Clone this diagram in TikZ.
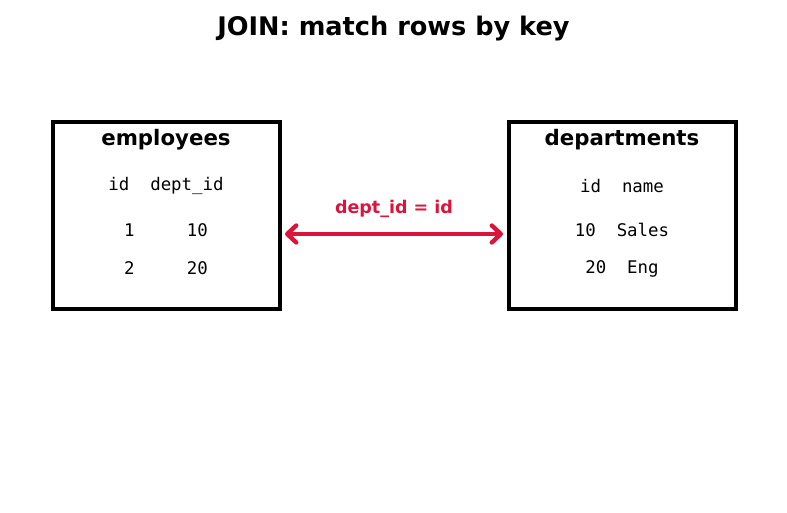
\documentclass[tikz,border=0pt]{standalone}
\usepackage{fontspec}
\setmainfont{DejaVu Sans}
\setmonofont{DejaVu Sans Mono}
\usetikzlibrary{arrows.meta}
\definecolor{joinred}{HTML}{DC143C}
\begin{document}
\begin{tikzpicture}[x=1pt,y=-1pt,
  tablebox/.style={draw=black,line width=4.8pt,minimum width=227pt,minimum height=187pt,inner sep=0pt},
  tabtitle/.style={font=\fontsize{21.3}{25}\selectfont\bfseries,inner sep=0pt,anchor=center},
  cell/.style={font=\fontsize{17.4}{20}\selectfont\ttfamily,inner sep=0pt,anchor=center},
  keyarrow/.style={draw=joinred,line width=4.4pt,{Straight Barb[length=9pt,width=17pt,line join=round,line cap=round]}-{Straight Barb[length=9pt,width=17pt,line join=round,line cap=round]}}
]
\useasboundingbox (0,0) rectangle (787,512);
\node[font=\fontsize{25.6}{30}\selectfont\bfseries,inner sep=0pt] (title) at (393.5,29) {JOIN: match rows by key};
\node[tablebox] (emp) at (166.5,215.5) {};
\node[tablebox] (dep) at (622.5,215.5) {};
\node[tabtitle] (empt) at (166,140) {employees};
\node[tabtitle] (dept) at (622,140) {departments};
\node[cell] (e0) at (166,186) {id\ \ dept\_id};
\node[cell] (e1) at (166,230) {1\ \ \ \ \ 10};
\node[cell] (e2) at (166,268) {2\ \ \ \ \ 20};
\node[cell] (d0) at (622,186) {id\ \ name};
\node[cell] (d1) at (622,230) {10\ \ Sales};
\node[cell] (d2) at (622,269) {20\ \ Eng};
\coordinate (al) at (285,234);
\coordinate (ar) at (503,234);
\draw[keyarrow] (al) -- (ar);
\node[font=\fontsize{17.5}{21}\selectfont\bfseries,text=joinred,inner sep=0pt] (lab) at (394,209) {dept\_id = id};
\end{tikzpicture}
\end{document}
